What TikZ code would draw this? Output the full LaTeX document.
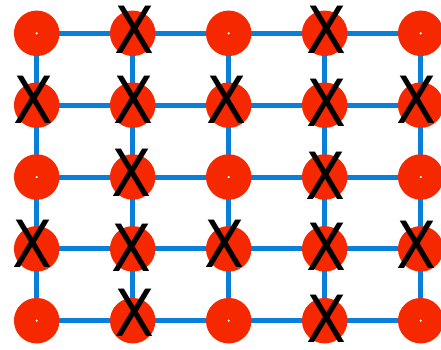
\documentclass[tikz,border=0pt]{standalone}
\usepackage{fontspec}
\newfontfamily\markfont{DejaVu Sans}
\usetikzlibrary{backgrounds}
\definecolor{edgeblue}{RGB}{10,127,218}
\definecolor{sitered}{RGB}{245,40,0}
\tikzset{
  site/.style={circle, fill=sitered, draw=none, minimum size=45.5pt, inner sep=0pt},
  bond/.style={draw=edgeblue, line width=5pt},
  dot/.style={circle, fill=white, draw=none, minimum size=2.4pt, inner sep=0pt},
  xmark/.style={inner sep=0pt, font=\markfont\fontsize{65}{65}\selectfont, xscale=0.9}
}
\begin{document}
\begin{tikzpicture}[x=1pt, y=-1pt]
  \useasboundingbox (0,0) rectangle (441,349);
  % lattice sites
  \foreach \i in {1,...,5} {
    \foreach \j in {1,...,5} {
      \node[site] (s-\i-\j) at ({36.7+96*(\i-1)}, {33.3+71.85*(\j-1)}) {};
    }
  }
  % bonds between neighbouring sites
  \begin{scope}[on background layer]
    \foreach \j in {1,...,5} {
      \foreach \i [evaluate=\i as \k using int(\i+1)] in {1,...,4} {
        \draw[bond] (s-\i-\j.center) -- (s-\k-\j.center);
      }
    }
    \foreach \i in {1,...,5} {
      \foreach \j [evaluate=\j as \k using int(\j+1)] in {1,...,4} {
        \draw[bond] (s-\i-\j.center) -- (s-\i-\k.center);
      }
    }
  \end{scope}
  % empty sites
  \foreach \i/\j in {1/1,3/1,5/1,1/3,3/3,5/3,1/5,3/5,5/5} {
    \node[dot] (d-\i-\j) at (s-\i-\j.center) {};
  }
  % occupied sites
  \node[xmark] (x-2-1) at (135,30) {X};
  \node[xmark] (x-4-1) at (327,30) {X};
  \node[xmark] (x-1-2) at (34,100) {X};
  \node[xmark] (x-2-2) at (134,100) {X};
  \node[xmark] (x-3-2) at (227,100) {X};
  \node[xmark] (x-4-2) at (327,103) {X};
  \node[xmark] (x-5-2) at (417,100) {X};
  \node[xmark] (x-2-3) at (132,173) {X};
  \node[xmark] (x-4-3) at (326,176) {X};
  \node[xmark] (x-1-4) at (33,244) {X};
  \node[xmark] (x-2-4) at (132,248) {X};
  \node[xmark] (x-3-4) at (225,244) {X};
  \node[xmark] (x-4-4) at (327,247) {X};
  \node[xmark] (x-5-4) at (417,245) {X};
  \node[xmark] (x-2-5) at (135,313) {X};
  \node[xmark] (x-4-5) at (327,319) {X};
\end{tikzpicture}
\end{document}
